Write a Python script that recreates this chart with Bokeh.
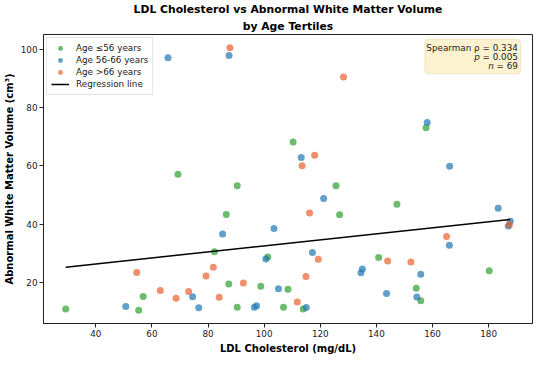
import numpy as np
from bokeh.plotting import figure
from bokeh.models import Range1d, FixedTicker, Title, Label, BoxAnnotation, Legend, LegendItem
from bokeh.embed import file_html
from bokeh.resources import INLINE

# ---- data ----
young_ldl = [29.3, 55.3, 56.9, 69.3, 82.3, 86.5, 87.4, 90.4, 90.4, 98.8, 101.3, 106.9,
             108.5, 110.3, 113.9, 125.6, 126.9, 140.8, 147.3, 154.2, 155.8, 157.7, 180.2]
young_wmv = [10.8, 10.3, 15.1, 57.1, 30.5, 43.3, 19.35, 53.2, 11.4, 18.6, 28.7, 11.4,
             17.6, 68.2, 10.8, 53.2, 43.2, 28.5, 46.85, 17.9, 13.6, 73.1, 23.9]

mid_ldl = [50.7, 65.75, 74.5, 76.7, 85.2, 87.5, 96.5, 97.3, 100.6, 103.5, 105.1, 113.2, 115.0,
           117.2, 121.2, 134.5, 135.0, 143.6, 154.4, 155.8, 158.1, 166.0, 166.1, 183.4, 187.7, 187.0]
mid_wmv = [11.6, 97.2, 15.0, 11.2, 36.6, 98.0, 11.4, 11.9, 28.0, 38.5, 17.7, 62.9, 11.3,
           30.2, 48.8, 23.25, 24.55, 16.1, 14.9, 22.7, 74.9, 32.7, 59.85, 45.4, 41.0, 39.3]

old_ldl = [54.6, 63.0, 68.6, 73.1, 79.3, 81.9, 84.0, 87.8, 92.6, 111.8, 113.5, 114.9, 116.2,
           118.0, 119.3, 128.3, 144.0, 152.3, 165.0, 187.4]
old_wmv = [23.3, 17.1, 14.5, 16.75, 22.1, 25.1, 14.8, 100.7, 19.7, 13.2, 60.1, 21.95, 43.8,
           63.7, 27.9, 90.6, 27.25, 26.9, 35.7, 39.8]

group_labels = ["Age \u226456 years", "Age 56-66 years", "Age >66 years"]
group_colors = ["#2ca02c", "#1f77b4", "#e8602c"]

x_ticks = [40, 60, 80, 100, 120, 140, 160, 180]
y_ticks = [20, 40, 60, 80, 100]

stats_lines = ["Spearman \u03c1 = 0.334", "= 0.005", "= 69"]

# ---- derived ----
all_x = np.array(young_ldl + mid_ldl + old_ldl)
all_y = np.array(young_wmv + mid_wmv + old_wmv)
slope, intercept = np.polyfit(all_x, all_y, 1)
reg_x = [all_x.min(), all_x.max()]
reg_y = [intercept + slope * v for v in reg_x]

xpad = 0.05 * (all_x.max() - all_x.min())
ypad = 0.05 * (all_y.max() - all_y.min())

FONT = "DejaVu Sans"

p = figure(width=534, height=356, output_backend="svg", toolbar_location=None,
           x_range=Range1d(all_x.min() - xpad, all_x.max() + xpad),
           y_range=Range1d(all_y.min() - ypad, all_y.max() + ypad),
           min_border_left=30, min_border_right=2, min_border_top=10, min_border_bottom=10)

p.xgrid.visible = False
p.ygrid.visible = False
p.background_fill_color = "white"
p.border_fill_color = "white"
p.outline_line_color = "#222222"
p.outline_line_width = 1

for ax in (p.xaxis[0], p.yaxis[0]):
    ax.axis_line_color = "#222222"
    ax.major_tick_line_color = "#222222"
    ax.major_tick_out = 4
    ax.major_tick_in = 0
    ax.minor_tick_line_color = None
    ax.major_label_text_font = FONT
    ax.major_label_text_font_size = "8.8px"
    ax.major_label_text_color = "#222222"
    ax.major_label_standoff = 2
    ax.axis_label_text_font = FONT
    ax.axis_label_text_font_size = "10px"
    ax.axis_label_text_font_style = "bold"
    ax.axis_label_text_color = "black"
    ax.axis_label_standoff = 3

p.xaxis.ticker = FixedTicker(ticks=x_ticks)
p.yaxis.ticker = FixedTicker(ticks=y_ticks)
p.xaxis.axis_label = "LDL Cholesterol (mg/dL)"
p.yaxis.axis_label = "Abnormal White Matter Volume (cm\u00b3)"

# titles (p.title is the outer line, the added Title sits next to the plot)
p.title.text = "LDL Cholesterol vs Abnormal White Matter Volume"
p.title.align = "center"
p.title.text_font = FONT
p.title.text_font_size = "10.8px"
p.title.text_font_style = "bold"
p.title.text_color = "black"
p.title.standoff = 0
p.add_layout(Title(text="by Age Tertiles", align="center",
                   text_font=FONT, text_font_size="10.8px", text_font_style="bold",
                   text_color="black", standoff=4), "above")

# scatter
renderers = []
for xs, ys, col in zip([young_ldl, mid_ldl, old_ldl], [young_wmv, mid_wmv, old_wmv], group_colors):
    r = p.scatter(xs, ys, size=7, fill_color=col, fill_alpha=0.7, line_color=col,
                  line_alpha=0.0)
    renderers.append(r)

reg = p.line(reg_x, reg_y, line_color="black", line_width=1.5)

legend = Legend(items=[LegendItem(label=group_labels[0], renderers=[renderers[0]]),
                       LegendItem(label=group_labels[1], renderers=[renderers[1]]),
                       LegendItem(label=group_labels[2], renderers=[renderers[2]]),
                       LegendItem(label="Regression line", renderers=[reg])],
                location="top_left", margin=3, padding=4, spacing=0,
                glyph_width=18, glyph_height=12, label_height=12, label_standoff=7,
                label_text_font=FONT, label_text_font_size="8.8px", label_text_color="#222222",
                background_fill_color="white", background_fill_alpha=0.85,
                border_line_color="#cccccc", border_line_width=1)
p.add_layout(legend)

# stats box
box = BoxAnnotation(left=157.3, right=191.4, top=103.6, bottom=91.7,
                    fill_color="#fdf2d0", fill_alpha=1.0,
                    line_color="#d8bb72", line_width=1)
try:
    box.border_radius = 4
except Exception:
    pass
p.add_layout(box)

tx = 190.4
line_ys = [100.6, 97.5, 94.5]
common = dict(text_baseline="middle", text_font=FONT, text_font_size="8.8px",
              text_color="#222222")
p.add_layout(Label(x=tx, y=line_ys[0], text=stats_lines[0], text_align="right", **common))
p.add_layout(Label(x=tx, y=line_ys[1], text=stats_lines[1], text_align="right", **common))
p.add_layout(Label(x=tx, y=line_ys[1], x_offset=-38, text="p", text_align="right",
                   text_font_style="italic", **common))
p.add_layout(Label(x=tx, y=line_ys[2], text=stats_lines[2], text_align="right", **common))
p.add_layout(Label(x=tx, y=line_ys[2], x_offset=-24, text="n", text_align="right",
                   text_font_style="italic", **common))

open("out.html", "w").write(file_html(p, INLINE))
